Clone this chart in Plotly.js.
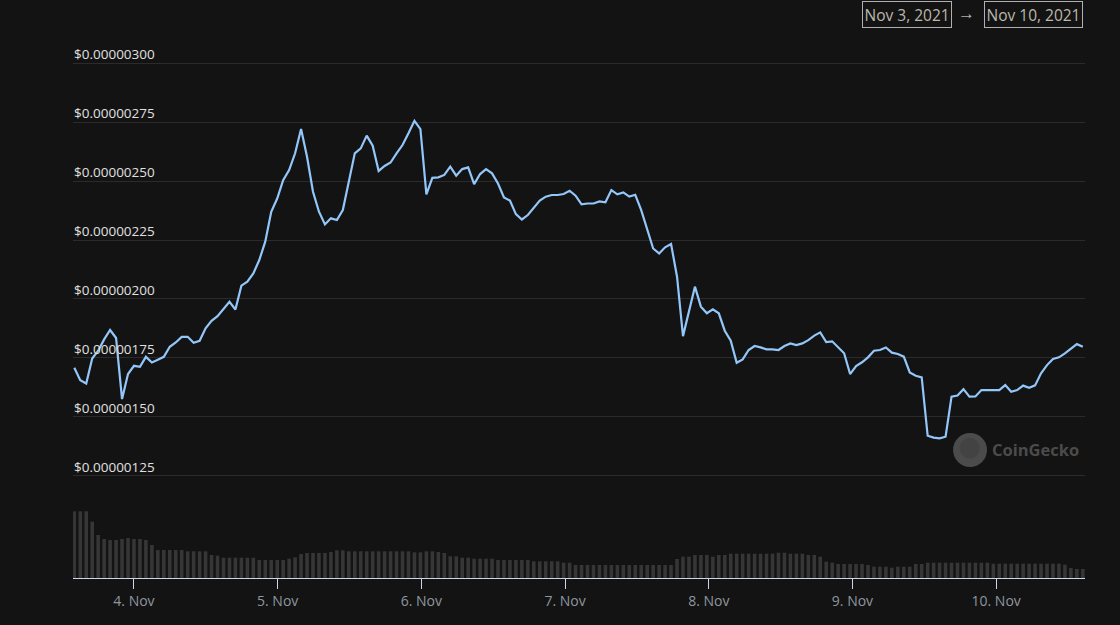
<!DOCTYPE html>
<html>
<head>
<meta charset="utf-8">
<script src="https://cdn.plot.ly/plotly-3.0.1.min.js"></script>
<style>
  html, body { margin: 0; padding: 0; background: #131313; }
  #chart { width: 1120px; height: 625px; }
</style>
</head>
<body>
<div id="chart"></div>
<script>
// ---- data (hourly, Nov 3 14:02 -> Nov 10 ~14:40) ----
const startTime = '2021-11-03T14:02:00Z';
const stepMinutes = 59.8;

// price in USD
const price = [
  1.708e-6,1.655e-6,1.641e-6,1.747e-6,1.780e-6,1.828e-6,1.868e-6,1.834e-6,1.575e-6,1.681e-6,
  1.716e-6,1.712e-6,1.754e-6,1.730e-6,1.742e-6,1.754e-6,1.797e-6,1.815e-6,1.839e-6,1.839e-6,
  1.814e-6,1.822e-6,1.875e-6,1.907e-6,1.927e-6,1.960e-6,1.988e-6,1.955e-6,2.056e-6,2.073e-6,
  2.108e-6,2.165e-6,2.243e-6,2.370e-6,2.426e-6,2.504e-6,2.547e-6,2.618e-6,2.721e-6,2.603e-6,
  2.455e-6,2.370e-6,2.316e-6,2.342e-6,2.335e-6,2.377e-6,2.504e-6,2.618e-6,2.639e-6,2.693e-6,
  2.650e-6,2.543e-6,2.564e-6,2.579e-6,2.618e-6,2.653e-6,2.703e-6,2.756e-6,2.721e-6,2.444e-6,
  2.514e-6,2.516e-6,2.526e-6,2.561e-6,2.523e-6,2.551e-6,2.558e-6,2.487e-6,2.530e-6,2.551e-6,
  2.533e-6,2.490e-6,2.431e-6,2.417e-6,2.360e-6,2.337e-6,2.356e-6,2.388e-6,2.417e-6,2.434e-6,
  2.441e-6,2.441e-6,2.445e-6,2.459e-6,2.438e-6,2.401e-6,2.405e-6,2.405e-6,2.414e-6,2.410e-6,
  2.462e-6,2.444e-6,2.452e-6,2.434e-6,2.442e-6,2.377e-6,2.299e-6,2.214e-6,2.193e-6,2.219e-6,
  2.233e-6,2.094e-6,1.842e-6,1.945e-6,2.052e-6,1.967e-6,1.939e-6,1.956e-6,1.939e-6,1.865e-6,
  1.823e-6,1.729e-6,1.743e-6,1.783e-6,1.800e-6,1.794e-6,1.786e-6,1.786e-6,1.783e-6,1.800e-6,
  1.811e-6,1.804e-6,1.811e-6,1.825e-6,1.844e-6,1.858e-6,1.817e-6,1.820e-6,1.794e-6,1.769e-6,
  1.681e-6,1.715e-6,1.731e-6,1.752e-6,1.780e-6,1.783e-6,1.794e-6,1.772e-6,1.766e-6,1.755e-6,
  1.688e-6,1.674e-6,1.667e-6,1.419e-6,1.411e-6,1.408e-6,1.415e-6,1.585e-6,1.590e-6,1.617e-6,
  1.585e-6,1.586e-6,1.613e-6,1.613e-6,1.613e-6,1.613e-6,1.634e-6,1.606e-6,1.613e-6,1.632e-6,
  1.623e-6,1.633e-6,1.684e-6,1.719e-6,1.745e-6,1.752e-6,1.769e-6,1.789e-6,1.808e-6,1.797e-6
];

// volume (relative units)
const volume = [
  66.7,66.7,66.7,56.3,43,39,38,38,39,40,
  39,39,38,33,28,28,28,28,28,26.7,
  26.7,26.7,26.7,23,22.3,20.3,20.3,20.3,20.3,20.3,
  20.3,18,18,18,18,18,19.3,20.7,24,25,
  25,25,25,26,27.7,27.7,26.7,26.7,26.7,26.7,
  26.7,26.7,26.7,26.7,26.7,26.7,26.7,25.7,25.7,26.7,
  26.7,26,25,21.7,21.7,20.3,20.3,19.3,19.3,19.3,
  19.3,18,18,18,18,18,18,16.7,16.7,16.7,
  16.7,16.7,15.3,15.3,13,13,13,13,13,13,
  13,13,13,13,13,13,13,13,13,13,
  13,19,21.3,21.3,23,23,23,21.3,23,23,
  24.3,24.3,24.3,24.3,24.3,24.3,24.3,24.3,25.3,25.3,
  24.3,24.3,24.3,23,23,21.3,16.3,15.3,14,14,
  14,14,14,13,11.3,11.3,11.3,10.3,11.3,11.3,
  11.3,14,14,15.3,15.3,15.3,15.3,15.3,15.3,15.3,
  15.3,15.3,15.3,15.3,14.3,14.3,14.3,14.3,14.3,14.3,
  14.3,14.3,14.3,14.3,14.3,14.3,13.3,10,9,9
];

const xTickVals = ['2021-11-04','2021-11-05','2021-11-06','2021-11-07','2021-11-08','2021-11-09','2021-11-10'];
const xTickText = ['4. Nov','5. Nov','6. Nov','7. Nov','8. Nov','9. Nov','10. Nov'];
const yTickVals = [1.25e-6,1.50e-6,1.75e-6,2.00e-6,2.25e-6,2.50e-6,2.75e-6,3.00e-6];
const yTickText = ['$0.00000125','$0.00000150','$0.00000175','$0.00000200','$0.00000225','$0.00000250','$0.00000275','$0.00000300'];
const rangeFrom = 'Nov 3, 2021';
const rangeTo = 'Nov 10, 2021';

// ---- timestamps ----
const t0 = Date.parse(startTime);
const times = price.map((_, i) => new Date(t0 + i * stepMinutes * 60000).toISOString().replace('Z', ''));

const priceTrace = {
  x: times, y: price, type: 'scatter', mode: 'lines',
  line: { color: '#93c6f9', width: 2.2 }, yaxis: 'y', hoverinfo: 'skip'
};
const volTrace = {
  x: times, y: volume, type: 'bar', yaxis: 'y2',
  marker: { color: '#363636', line: { width: 0 } }, hoverinfo: 'skip'
};

// y tick labels drawn inside the plot, above each gridline
const yLabelAnnotations = yTickVals.map((v, i) => ({
  xref: 'paper', yref: 'y', x: 0, y: v, xanchor: 'left', yanchor: 'bottom',
  text: yTickText[i], showarrow: false, borderpad: 0, yshift: -1,
  font: { size: 13.5, color: '#e0e0e0' }
}));

const layout = {
  width: 1120, height: 625,
  margin: { l: 73, r: 35, t: 30, b: 47 },
  paper_bgcolor: '#131313', plot_bgcolor: '#131313',
  font: { family: 'Open Sans, sans-serif', color: '#cccccc' },
  showlegend: false, hovermode: false, bargap: 0.4,
  xaxis: {
    type: 'date',
    range: ['2021-11-03T13:49:00', '2021-11-10T14:50:00'],
    tickvals: xTickVals, ticktext: xTickText,
    showgrid: false, zeroline: false,
    showline: true, linecolor: '#ccd6eb', linewidth: 1,
    ticks: 'outside', ticklen: 10, tickwidth: 1, tickcolor: '#ccd6eb',
    tickfont: { size: 14, color: '#8f969f' }
  },
  yaxis: {
    range: [0.8154e-6, 3.1413e-6],
    tickvals: yTickVals, showticklabels: false,
    showgrid: true, gridcolor: '#2b2b2b', gridwidth: 1,
    zeroline: false, showline: false, ticks: ''
  },
  yaxis2: {
    overlaying: 'y', range: [0, 548],
    showgrid: false, zeroline: false, showticklabels: false, showline: false
  },
  shapes: [
    { type: 'circle', xref: 'paper', yref: 'paper', layer: 'below',
      x0: 0.8696, x1: 0.9032, y0: 0.2026, y1: 0.2646,
      fillcolor: '#4b4b4b', line: { width: 0 } },
    { type: 'circle', xref: 'paper', yref: 'paper', layer: 'below',
      x0: 0.8760, x1: 0.8960, y0: 0.2180, y1: 0.2560,
      fillcolor: '#434343', line: { width: 0 } }
  ],
  annotations: yLabelAnnotations.concat([
    { xref: 'paper', yref: 'paper', x: 0.951, y: 0.2336, xanchor: 'center', yanchor: 'middle',
      text: '<b>CoinGecko</b>', showarrow: false,
      font: { size: 16.5, color: '#4b4b4b', family: 'Open Sans, sans-serif' } },
    { xref: 'paper', yref: 'paper', x: 0.9977, y: 1, xanchor: 'right', yanchor: 'top', yshift: 29.5,
      text: rangeTo, showarrow: false, bordercolor: '#b0b0b0', borderwidth: 1, borderpad: 1.5,
      font: { size: 15.5, color: '#bcb7ad' } },
    { xref: 'paper', yref: 'paper', x: 0.8829, y: 1, xanchor: 'center', yanchor: 'top', yshift: 31,
      text: '→', showarrow: false,
      font: { size: 17, color: '#b0b0b0' } },
    { xref: 'paper', yref: 'paper', x: 0.8683, y: 1, xanchor: 'right', yanchor: 'top', yshift: 29.5,
      text: rangeFrom, showarrow: false, bordercolor: '#b0b0b0', borderwidth: 1, borderpad: 1.5,
      font: { size: 15.5, color: '#bcb7ad' } }
  ])
};

Plotly.newPlot('chart', [volTrace, priceTrace], layout, { displayModeBar: false, staticPlot: true });
</script>
</body>
</html>
